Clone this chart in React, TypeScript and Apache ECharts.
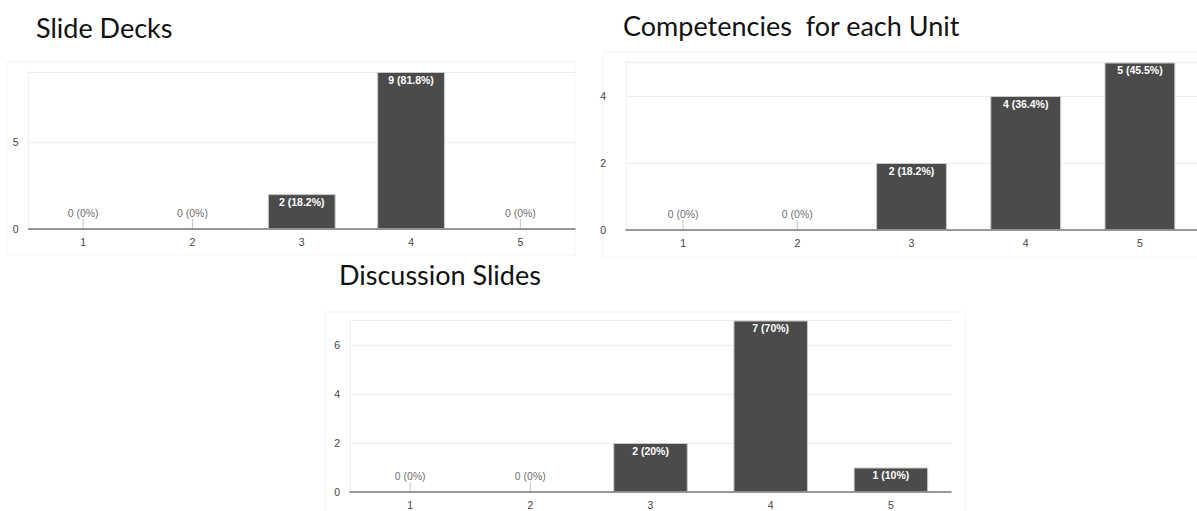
import React, { useEffect, useRef } from "react";
import * as echarts from "echarts";

// Rating scale shared by all three survey questions
const ratings = ["1", "2", "3", "4", "5"];

// Response counts per rating
const slideDeckCounts = [0, 0, 2, 9, 0];
const competencyCounts = [0, 0, 2, 4, 5];
const discussionCounts = [0, 0, 2, 7, 1];

const chartTitles = ["Slide Decks", "Competencies  for each Unit", "Discussion Slides"];

// Y-axis step and top of each chart's scale
const yIntervals = [5, 2, 2];
const yMaxes = [9, 5, 7];

const BAR = "#4b4b4b";
const AXIS_TEXT = "#444";
const LABEL_FONT = "'Liberation Sans', Arial, sans-serif";
const TITLE_FONT = "Lato, 'Open Sans', sans-serif";

function pct(v: number, total: number): string {
  const p = Math.round((v / total) * 1000) / 10;
  return `${v} (${p}%)`;
}

export default function App() {
  const ref = useRef<HTMLDivElement>(null);

  useEffect(() => {
    if (!ref.current) return;
    const chart = echarts.init(ref.current, undefined, { renderer: "svg" });

    const datasets = [slideDeckCounts, competencyCounts, discussionCounts];

    // Plot rectangles (left, top, width, height) for the three panels
    const grids = [
      { left: 28.5, top: 72, width: 546.5, height: 157 },
      { left: 626, top: 62.5, width: 583, height: 167.5 },
      { left: 350, top: 320.5, width: 601, height: 171.5 },
    ];
    const yLabelMargins = [10, 20, 10];

    const xAxis: any[] = [];
    const yAxis: any[] = [];
    const series: any[] = [];

    datasets.forEach((counts, i) => {
      const total = counts.reduce((a, b) => a + b, 0);
      xAxis.push({
        type: "category",
        gridIndex: i,
        data: ratings,
        axisTick: { show: false },
        axisLine: { lineStyle: { color: "#7a7a7a", width: 1.5 } },
        axisLabel: { color: AXIS_TEXT, fontSize: 10.5, fontFamily: LABEL_FONT, margin: 7 },
        z: 5,
      });
      yAxis.push({
        type: "value",
        gridIndex: i,
        min: 0,
        max: yMaxes[i],
        interval: yIntervals[i],
        axisLine: { show: true, lineStyle: { color: "#eeeeee", width: 1 } },
        axisTick: { show: false },
        splitLine: { lineStyle: { color: "#ececec", width: 1 } },
        axisLabel: {
          color: AXIS_TEXT,
          fontSize: 10.5,
          fontFamily: LABEL_FONT,
          margin: yLabelMargins[i],
          showMaxLabel: false,
        },
      });
      series.push({
        type: "bar",
        xAxisIndex: i,
        yAxisIndex: i,
        data: counts.map((v) => (v > 0 ? v : null)),
        barCategoryGap: "38%",
        itemStyle: { color: BAR, borderColor: "#c9c9c9", borderWidth: 1 },
        label: {
          show: true,
          position: "insideTop",
          distance: 2,
          color: "#ffffff",
          fontSize: 10.5,
          fontWeight: "bold",
          fontFamily: LABEL_FONT,
          formatter: (p: any) => pct(p.value, total),
        },
        z: 3,
      });
      // Empty ratings: a short stem with the "0 (0%)" label
      series.push({
        type: "scatter",
        xAxisIndex: i,
        yAxisIndex: i,
        data: counts
          .map((v, k) => [ratings[k], v])
          .filter((d) => d[1] === 0),
        symbol: "rect",
        symbolSize: [1, 10],
        symbolOffset: [0, -5],
        itemStyle: { color: "#b5b5b5" },
        label: {
          show: true,
          position: "top",
          distance: 1,
          color: AXIS_TEXT,
          fontSize: 10.5,
          fontFamily: LABEL_FONT,
          formatter: (p: any) => pct(p.value[1], total),
        },
        z: 4,
      });
    });

    chart.setOption({
      animation: false,
      backgroundColor: "#ffffff",
      grid: grids.map((g) => ({ ...g, containLabel: false })),
      xAxis,
      yAxis,
      series,
      graphic: [
        // faint panel frames
        { type: "rect", shape: { x: 7, y: 62, width: 568, height: 193 }, style: { fill: "none", stroke: "#f3f3f3", lineWidth: 1 }, silent: true },
        { type: "rect", shape: { x: 603, y: 52, width: 600, height: 205 }, style: { fill: "none", stroke: "#f3f3f3", lineWidth: 1 }, silent: true },
        { type: "rect", shape: { x: 325, y: 312, width: 640, height: 205 }, style: { fill: "none", stroke: "#f3f3f3", lineWidth: 1 }, silent: true },
        { type: "text", x: 36, y: 27, style: { text: chartTitles[0], fill: "#111", font: `27px ${TITLE_FONT}`, textVerticalAlign: "middle" } },
        { type: "text", x: 623, y: 25, style: { text: chartTitles[1], fill: "#111", font: `27px ${TITLE_FONT}`, textVerticalAlign: "middle" } },
        { type: "text", x: 339, y: 274, style: { text: chartTitles[2], fill: "#111", font: `27px ${TITLE_FONT}`, textVerticalAlign: "middle" } },
      ],
    });

    return () => chart.dispose();
  }, []);

  return (
    <div
      ref={ref}
      style={{ position: "fixed", left: 0, top: 0, width: 1197, height: 511, background: "#fff" }}
    />
  );
}
